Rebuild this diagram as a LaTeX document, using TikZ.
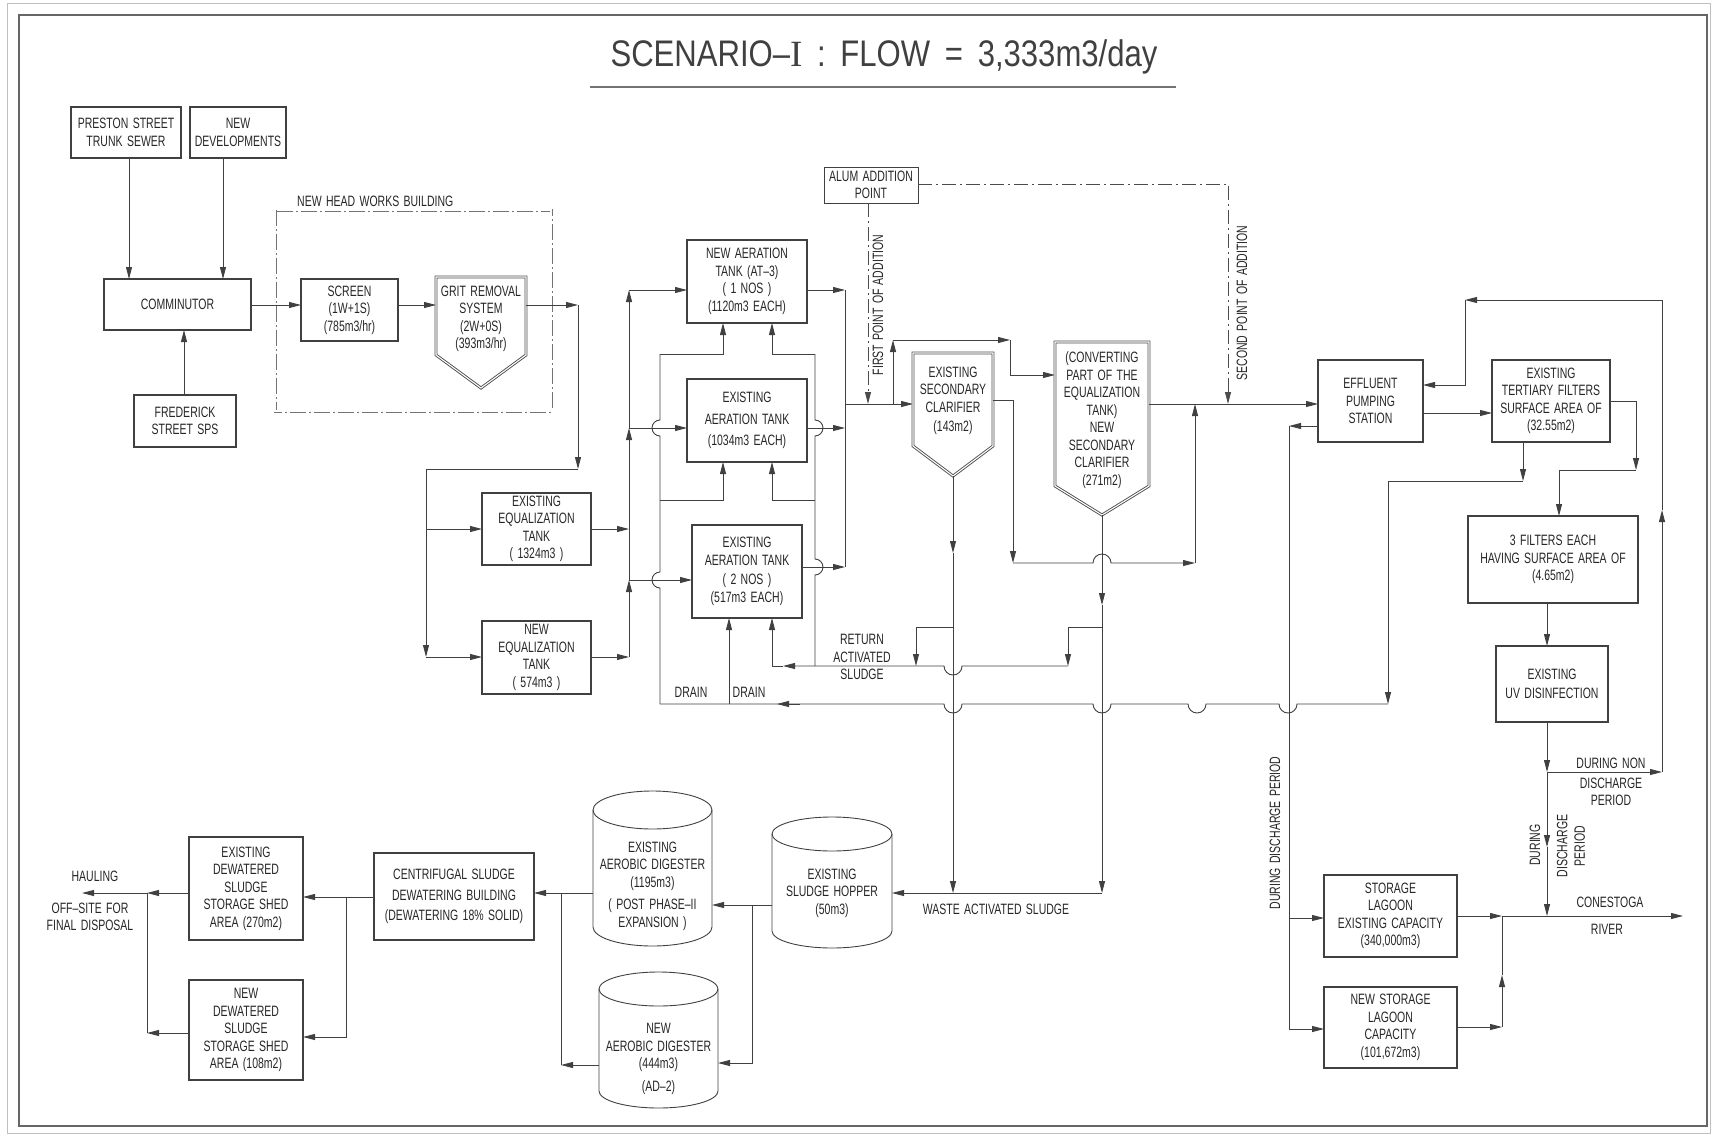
\documentclass[tikz,border=0pt]{standalone}
\usepackage{fontspec}
\setmainfont{Liberation Sans}[FakeStretch=0.7,WordSpace=1.5]
\newfontfamily\ttlfont{Liberation Sans}[FakeStretch=0.84,WordSpace=1.7]
\newfontfamily\ttlI{Liberation Serif}
\usetikzlibrary{arrows.meta}
\newcommand\dgf{\fontsize{15}{17.5}\selectfont}
\begin{document}
\begin{tikzpicture}[x=1pt,y=1pt,yscale=-1,
  sbox/.style={draw=black!75, line width=0.9pt, inner sep=0pt, align=center, font=\dgf, text=black!85},
  ibox/.style={draw=black!75, line width=0.9pt, inner sep=0pt},
  shp/.style={draw=black!70, double=white, double distance=1.1pt, line width=0.9pt},
  cyl/.style={draw=black!75, line width=0.9pt},
  ln/.style={draw=black!75, line width=0.9pt},
  arr/.style={ln, -{Triangle[length=12pt,width=6pt]}},
  dd/.style={draw=black!70, line width=0.9pt, dash pattern=on 14pt off 4pt on 2pt off 4pt},
  ddarr/.style={dd, -{Triangle[length=12pt,width=6pt]}},
  hw/.style={draw=black!55, double=white, double distance=1.6pt, line width=0.7pt, dash pattern=on 16pt off 3pt on 2pt off 3pt},
  lbl/.style={align=center, inner sep=0pt, font=\dgf, text=black!85}]
\useasboundingbox (0,0) rectangle (1711,1135);
% frame
\draw[black!25, line width=0.8pt] (7,3) rectangle (1710,1133);
\draw[black!60, line width=1.2pt] (19,15) rectangle (1707,1126);
% title
\node[inner sep=0pt, font=\ttlfont\fontsize{37}{40}\selectfont, text=black!75] (title) at (884,57) {SCENARIO–{\ttlI I} : FLOW = 3,333m3/day};
\draw[black!55, line width=1.2pt] (590,87) -- (1176,87);

% ---- boxes: outer node with text, inner outline node for the double line
\foreach \nm/\cx/\cy/\w/\h/\txt in {
  preston/126/132.5/110/51/{PRESTON STREET\\TRUNK SEWER},
  newdev/238/132.5/96/51/{NEW\\DEVELOPMENTS},
  comm/177.5/304.5/147/51/{COMMINUTOR},
  fred/185/421/102/52/{FREDERICK\\STREET SPS},
  screen/349.5/310/97/62/{SCREEN\\(1W+1S)\\(785m3/hr)},
  eqe/536.5/529/109/72/{EXISTING\\EQUALIZATION\\TANK\\( 1324m3 )},
  eqn/536.5/657.5/109/73/{NEW\\EQUALIZATION\\TANK\\( 574m3 )},
  at3/747/281.5/120/83/{NEW AERATION\\TANK (AT–3)\\( 1 NOS )\\(1120m3 EACH)},
  ate/747/420.5/120/83/{EXISTING\\[4pt]AERATION TANK\\[4pt](1034m3 EACH)},
  at2/747/571.5/110/93/{EXISTING\\[1pt]AERATION TANK\\[1pt]( 2 NOS )\\[1pt](517m3 EACH)},
  cen/454/896.5/160/87/{CENTRIFUGAL SLUDGE\\[3pt]DEWATERING BUILDING\\[3pt](DEWATERING 18\% SOLID)},
  edw/246/888.5/114/103/{EXISTING\\DEWATERED\\SLUDGE\\STORAGE SHED\\AREA (270m2)},
  ndw/246/1030/114/100/{NEW\\DEWATERED\\SLUDGE\\STORAGE SHED\\AREA (108m2)},
  eps/1370.5/401/105/82/{EFFLUENT\\PUMPING\\STATION},
  ter/1551/401/118/82/{EXISTING\\TERTIARY FILTERS\\SURFACE AREA OF\\(32.55m2)},
  tf/1553/559.5/170/87/{3 FILTERS EACH\\HAVING SURFACE AREA OF\\(4.65m2)},
  uv/1552/684/112/76/{EXISTING\\[2pt]UV DISINFECTION},
  slg/1390.5/916/133/82/{STORAGE\\LAGOON\\EXISTING CAPACITY\\(340,000m3)},
  nlg/1390.5/1027.5/133/81/{NEW STORAGE\\LAGOON\\CAPACITY\\(101,672m3)}}
{
  \node[sbox, minimum width=\w pt+1.2pt, minimum height=\h pt+1.2pt] (\nm) at (\cx,\cy) {\txt};
  \node[ibox, minimum width=\w pt-1.8pt, minimum height=\h pt-1.8pt] (\nm-in) at (\cx,\cy) {};
}

% ---- top left
\draw[hw] (275,210) rectangle (551,411);
\node[lbl, anchor=base west] (hwlabel) at (297,206) {NEW HEAD WORKS BUILDING};
\draw[shp] (436,277) -- (526,277) -- (526,355) -- (481,388) -- (436,355) -- cycle;
\node[lbl] (grit) at (481,319) {GRIT REMOVAL\\SYSTEM\\(2W+0S)\\(393m3/hr)};

\draw[arr] (129,158) -- (129,279);
\draw[arr] (223,158) -- (223,279);
\draw[arr] (184,395) -- (184,330);
\draw[arr] (251,305) -- (301,305);
\draw[arr] (398,305) -- (436,305);
\draw[arr] (526,305) -- (578,305);
\draw[arr] (578,305) -- (578,469);
\draw[arr] (578,469) -- (426,469) -- (426,657);
\draw[arr] (426,657) -- (482,657);
\draw[arr] (426,529) -- (482,529);

% ---- equalization
\draw[arr] (591,529) -- (629,529);
\draw[arr] (591,657) -- (629,657);
\draw[arr] (629,657) -- (629,580);
\draw[arr] (629,580) -- (629,428);
\draw[arr] (629,428) -- (629,290);
\draw[arr] (629,290) -- (687,290);
\draw[arr] (629,428) -- (687,428);
\draw[arr] (629,580) -- (692,580);

% ---- aeration tanks
\draw[ln] (660,354) -- (660,420) arc[start angle=270,end angle=90,radius=8] -- (660,572) arc[start angle=270,end angle=90,radius=8] -- (660,704);
\draw[arr] (660,354) -- (723,354) -- (723,323);
\draw[arr] (660,500) -- (723,500) -- (723,462);
\draw[ln] (815,354) -- (815,420) arc[start angle=-90,end angle=90,radius=8] -- (815,559) arc[start angle=-90,end angle=90,radius=8] -- (815,666);
\draw[arr] (815,354) -- (772,354) -- (772,323);
\draw[arr] (815,500) -- (772,500) -- (772,462);
\draw[arr] (729,704) -- (729,618);
\draw[arr] (1068,666) -- (962,666) arc[start angle=0,end angle=180,radius=9] -- (783,666);
\draw[arr] (783,666) -- (772,666) -- (772,618);
\draw[ln] (1388,704) -- (1297,704) arc[start angle=0,end angle=180,radius=9] -- (1206,704) arc[start angle=0,end angle=180,radius=9] -- (1111,704) arc[start angle=0,end angle=180,radius=9] -- (962,704) arc[start angle=0,end angle=180,radius=9] -- (660,704);
\draw[arr] (800,704) -- (777,704);
\node[lbl] (ras) at (862,657) {RETURN\\ACTIVATED\\SLUDGE};
\node[lbl] (drain1) at (691,692) {DRAIN};
\node[lbl] (drain2) at (749,692) {DRAIN};

\draw[arr] (807,290) -- (845,290);
\draw[arr] (807,428) -- (845,428);
\draw[arr] (802,567) -- (845,567);
\draw[ln] (845,290) -- (845,567);
\draw[arr] (845,404) -- (913,404);
\draw[arr] (893,404) -- (893,340);
\draw[arr] (893,340) -- (1010,340);
\draw[arr] (1010,340) -- (1010,375) -- (1055,375);

% ---- alum
\node[sbox, minimum width=94pt, minimum height=36pt] (alum) at (871,185) {ALUM ADDITION\\POINT};
\draw[ddarr] (868,203) -- (868,404);
\draw[ddarr] (918,184) -- (1228,184) -- (1228,404);
\node[lbl, rotate=90] (first) at (878,305) {FIRST POINT OF ADDITION};
\node[lbl, rotate=90] (second) at (1242,303) {SECOND POINT OF ADDITION};

% ---- clarifiers
\draw[shp] (913,353) -- (993,353) -- (993,446) -- (953,476) -- (913,446) -- cycle;
\node[lbl] (esc) at (953,401) {EXISTING\\SECONDARY\\CLARIFIER\\[2pt](143m2)};
\draw[shp] (1055,342) -- (1149,342) -- (1149,486) -- (1102,515) -- (1055,486) -- cycle;
\node[lbl] (nsc) at (1102,420) {(CONVERTING\\PART OF THE\\EQUALIZATION\\TANK)\\NEW\\SECONDARY\\CLARIFIER\\(271m2)};
\draw[arr] (993,400) -- (1013,400) -- (1013,563);
\draw[arr] (1013,563) -- (1093,563) arc[start angle=180,end angle=360,radius=9] -- (1195,563);
\draw[arr] (1195,563) -- (1195,404);
\draw[arr] (1149,404) -- (1318,404);
\draw[arr] (953,476) -- (953,553);
\draw[arr] (953,553) -- (953,893);
\draw[arr] (953,627) -- (916,627) -- (916,666);
\draw[arr] (1102,515) -- (1102,605);
\draw[arr] (1102,605) -- (1102,893);
\draw[arr] (1102,627) -- (1068,627) -- (1068,666);
\draw[arr] (1102,893) -- (892,893);
\node[lbl] (was) at (996,909) {WASTE ACTIVATED SLUDGE};

% ---- sludge cylinders
\draw[cyl] (772,834) -- (772,931) arc[start angle=180,end angle=0,x radius=60,y radius=17] -- (892,834);
\draw[cyl] (832,834) ellipse[x radius=60,y radius=17];
\node[lbl] (hopper) at (832,893) {EXISTING\\SLUDGE HOPPER\\(50m3)};
\draw[cyl] (593,810) -- (593,927) arc[start angle=180,end angle=0,x radius=59.5,y radius=19] -- (712,810);
\draw[cyl] (652.5,810) ellipse[x radius=59.5,y radius=19];
\node[lbl] (ead) at (652.5,886) {EXISTING\\AEROBIC DIGESTER\\(1195m3)\\[5pt]( POST PHASE–II\\EXPANSION )};
\draw[cyl] (599,989) -- (599,1091) arc[start angle=180,end angle=0,x radius=59.5,y radius=17] -- (718,989);
\draw[cyl] (658.5,989) ellipse[x radius=59.5,y radius=17];
\node[lbl] (nad) at (658.5,1059) {NEW\\AEROBIC DIGESTER\\(444m3)\\[5pt](AD–2)};
\draw[arr] (772,905) -- (712,905);
\draw[arr] (752,905) -- (752,1063) -- (718,1063);
\draw[arr] (593,893) -- (534,893);
\draw[arr] (599,1065) -- (561,1065);
\draw[ln] (561,1065) -- (561,893);

% ---- dewatering
\draw[arr] (374,897) -- (303,897);
\draw[arr] (346,897) -- (346,1037) -- (303,1037);
\draw[arr] (189,893) -- (147,893);
\draw[arr] (147,893) -- (82,893);
\draw[arr] (189,1033) -- (147,1033);
\draw[ln] (147,1033) -- (147,893);
\node[lbl] (hauling) at (95,876) {HAULING};
\node[lbl] (offsite) at (90,917) {OFF–SITE FOR\\FINAL DISPOSAL};

% ---- right side
\draw[arr] (1423,413) -- (1492,413);
\draw[arr] (1318,426) -- (1289,426);
\draw[ln] (1289,426) -- (1289,1029);
\draw[arr] (1289,918) -- (1324,918);
\draw[arr] (1289,1029) -- (1324,1029);
\draw[arr] (1523,442) -- (1523,481);
\draw[arr] (1523,481) -- (1388,481) -- (1388,704);
\draw[arr] (1610,401) -- (1636,401) -- (1636,470);
\draw[arr] (1636,470) -- (1559,470) -- (1559,516);
\draw[arr] (1547,603) -- (1547,646);
\draw[arr] (1547,722) -- (1547,772);
\draw[arr] (1547,772) -- (1547,847);
\draw[arr] (1547,847) -- (1547,916);
\draw[arr] (1547,772) -- (1662,772);
\draw[arr] (1662,772) -- (1662,510);
\draw[arr] (1662,510) -- (1662,300) -- (1465,300);
\draw[arr] (1465,300) -- (1465,385) -- (1423,385);
\draw[arr] (1457,916) -- (1502,916);
\draw[arr] (1457,1027) -- (1502,1027);
\draw[arr] (1502,1027) -- (1502,975);
\draw[ln] (1502,975) -- (1502,916);
\draw[arr] (1502,916) -- (1683,916);

\node[lbl, rotate=90] (ddp) at (1275,833) {DURING DISCHARGE PERIOD};
\node[lbl] (dnon) at (1611,782) {DURING NON\\[2pt]DISCHARGE\\PERIOD};
\node[lbl, rotate=90] (during) at (1535,845) {DURING};
\node[lbl, rotate=90] (dperiod) at (1571,846) {DISCHARGE\\PERIOD};
\node[lbl] (conestoga) at (1610,902) {CONESTOGA};
\node[lbl] (river) at (1607,929) {RIVER};
\end{tikzpicture}
\end{document}
